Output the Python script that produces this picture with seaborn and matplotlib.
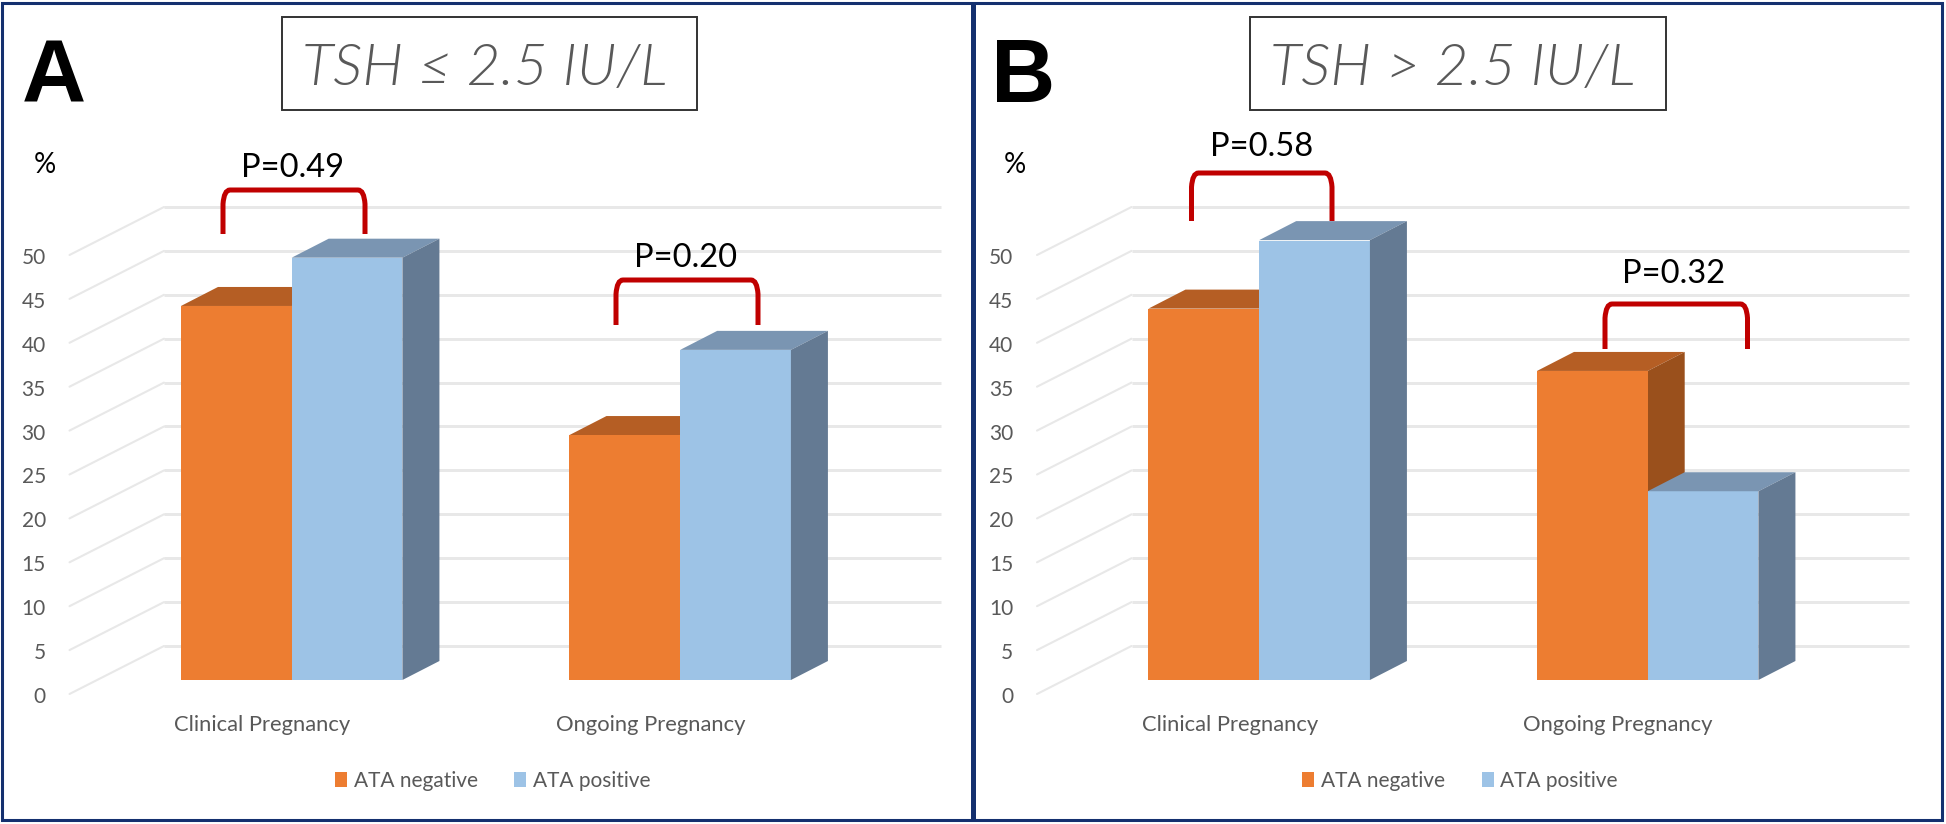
import pandas as pd
import matplotlib
matplotlib.use("Agg")
import matplotlib.pyplot as plt
import matplotlib.transforms as mtransforms
from matplotlib.patches import Polygon, Rectangle, PathPatch
from matplotlib.path import Path
import seaborn as sns

# values
categories = ["Clinical Pregnancy", "Ongoing Pregnancy"]
groups = ["ATA negative", "ATA positive"]
negative_a = [42.6, 27.9]
positive_a = [48.1, 37.6]
negative_b = [42.3, 35.2]
positive_b = [50.1, 21.5]
ticks = [0, 5, 10, 15, 20, 25, 30, 35, 40, 45, 50]
p_labels_a = ["P=0.49", "P=0.20"]
p_labels_b = ["P=0.58", "P=0.32"]

W, H = 1946, 824
ORANGE = ["#ED7D31", "#B55E24", "#9A501C"]
BLUE = ["#9DC3E6", "#7A95B2", "#647A93"]
GREY = "#595959"
NAVY = "#14306F"
RED = "#C00000"
FONT = "Lato"

sns.set_theme(style="white")
plt.rcParams["font.family"] = [FONT, "DejaVu Sans"]

fig = plt.figure(figsize=(W / 100, H / 100), dpi=100, facecolor="white")


def make_frame(values_neg, values_pos):
    return pd.DataFrame({
        "Category": categories * 2,
        "Group": [groups[0]] * 2 + [groups[1]] * 2,
        "Value": list(values_neg) + list(values_pos),
    })


def draw_panel(values_neg, values_pos, shift):
    # axes spans the front left wall edge to the back right gridline end
    left, right, base, top = 69.5 + shift, 941 + shift, 680, 241
    ax = fig.add_axes([left / W, (H - base) / H, (right - left) / W, (base - top) / H])
    ax.patch.set_visible(False)
    x_unit = 388.5
    first = 291.7 + shift
    y_unit = (base - top) / 50
    depth_x = 37 / x_unit
    depth_y = 19 / y_unit

    sns.barplot(data=make_frame(values_neg, values_pos), x="Category", y="Value",
                hue="Group", hue_order=groups, palette=[ORANGE[0], BLUE[0]],
                width=0.57, gap=0, saturation=1, errorbar=None, ax=ax,
                zorder=3, linewidth=0)
    ax.set_xlim((left - first) / x_unit, (right - first) / x_unit)
    ax.set_ylim(0, 50)
    ax.set_xlabel("")
    ax.set_ylabel("")
    sns.despine(ax=ax, left=True, bottom=True)

    # 3D side and top faces, built from the bars seaborn drew
    for container, shades, z in zip(ax.containers, [ORANGE, BLUE], [2, 4]):
        for bar in container:
            x0, x1, h = bar.get_x(), bar.get_x() + bar.get_width(), bar.get_height()
            ax.add_patch(Polygon([(x0, h), (x1, h), (x1 + depth_x, h + depth_y), (x0 + depth_x, h + depth_y)],
                                 fc=shades[1], ec="none", zorder=z, clip_on=False))
            ax.add_patch(Polygon([(x1, 0), (x1 + depth_x, depth_y), (x1 + depth_x, h + depth_y), (x1, h)],
                                 fc=shades[2], ec="none", zorder=z, clip_on=False))

    # back wall lines and left wall diagonals
    wall = ax.get_yaxis_transform()
    back_x = 94.5 / (right - left)
    front_y, back_y = -14 / y_unit, 34 / y_unit
    for t in ticks:
        ax.plot([back_x, 1], [t + back_y] * 2, transform=wall, color="#E8E8E8", lw=2.1,
                clip_on=False, zorder=1, solid_capstyle="butt")
        ax.plot([0, back_x], [t + front_y, t + back_y], transform=wall, color="#E8E8E8", lw=1.5,
                clip_on=False, zorder=1)

    ax.set_yticks(ticks)
    ax.set_yticklabels([str(t) for t in ticks])
    ax.set_xticks([0, 1])
    ax.set_xticklabels(categories)
    ax.tick_params(axis="y", length=0, pad=17, labelsize=15, labelcolor=GREY)
    ax.tick_params(axis="x", length=0, pad=25.5, labelsize=15.8, labelcolor=GREY)
    for label in ax.get_yticklabels():
        label.set_transform(label.get_transform() + mtransforms.Affine2D().translate(0, -15))
    for label in ax.get_xticklabels():
        label.set_transform(label.get_transform() + mtransforms.Affine2D().translate(-29.5, 0))

    sns.move_legend(ax, "center", bbox_to_anchor=(0.4854, -0.23), ncols=2, title=None,
                    frameon=False, fontsize=15, labelcolor=GREY, handlelength=0.58,
                    handleheight=0.72, handletextpad=0.33, columnspacing=1.75, borderpad=0)
    return ax


draw_panel(negative_a, positive_a, 0)
draw_panel(negative_b, positive_b, 967.5)

# overlay in image pixels for frames, titles and brackets
over = fig.add_axes([0, 0, 1, 1], zorder=5)
over.set_xlim(0, W)
over.set_ylim(H, 0)
over.axis("off")


def bracket(x0, x1, top, bottom, label, label_x, label_y):
    r = 7
    verts = [(x0, bottom), (x0, top + 2 * r), (x0 + 1, top), (x0 + r, top), (x1 - r, top),
             (x1 - 1, top), (x1, top + 2 * r), (x1, bottom)]
    codes = [Path.MOVETO, Path.LINETO, Path.CURVE3, Path.CURVE3, Path.LINETO,
             Path.CURVE3, Path.CURVE3, Path.LINETO]
    over.add_patch(PathPatch(Path(verts, codes), fc="none", ec=RED, lw=3.6, capstyle="butt"))
    over.text(label_x, label_y, label, ha="center", va="baseline", fontsize=23.5, color="black")


over.add_patch(Rectangle((2, 3), 1940, 816.5, fc="none", ec=NAVY, lw=2.2))
over.plot([972.5, 972.5], [3, 819.5], color=NAVY, lw=3.6, solid_capstyle="butt")

for x0, x1, label in [(282, 697, "TSH ≤ 2.5 IU/L"), (1250, 1665.5, "TSH > 2.5 IU/L")]:
    over.add_patch(Rectangle((x0, 17), x1 - x0, 93, fc="white", ec="#333333", lw=1.4))
    over.text((x0 + x1) / 2 - 5, 85, label, ha="center", va="baseline", fontsize=42, color=GREY,
              style="italic", weight=300)

over.text(54, 102, "A", ha="center", va="baseline", fontsize=64, weight="bold",
          family="Liberation Sans", color="black")
over.text(1023, 102, "B", ha="center", va="baseline", fontsize=64, weight="bold",
          family="Liberation Sans", color="black")
over.text(44.5, 173, "%", ha="center", va="baseline", fontsize=20, color="black")
over.text(1015, 173, "%", ha="center", va="baseline", fontsize=20, color="black")

bracket(223, 365, 190, 234, p_labels_a[0], 293, 177)
bracket(616, 758, 280, 325, p_labels_a[1], 686, 267)
bracket(1191.5, 1332, 173, 221, p_labels_b[0], 1261.5, 156)
bracket(1605, 1747.5, 304, 349, p_labels_b[1], 1673.5, 283)

fig.savefig("out.png", dpi=100, facecolor="white")
